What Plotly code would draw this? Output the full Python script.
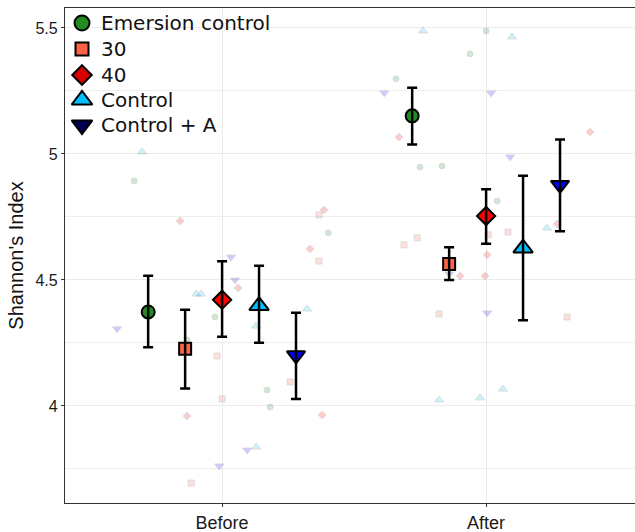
import plotly.graph_objects as go

# ---------------- data ----------------
times = ["Before", "After"]
time_pos = [1, 2]
groups = ["Emersion control", "30", "40", "Control", "Control + A"]
dodge = [-0.28, -0.14, 0.0, 0.14, 0.28]

# means and error-bar limits (mean ± SE), per group: [Before, After]
mean_vals = {
    "Emersion control": [4.373, 5.151],
    "30": [4.227, 4.563],
    "40": [4.421, 4.754],
    "Control": [4.398, 4.626],
    "Control + A": [4.201, 4.877],
}
upper_vals = {
    "Emersion control": [4.517, 5.263],
    "30": [4.382, 4.630],
    "40": [4.574, 4.860],
    "Control": [4.556, 4.913],
    "Control + A": [4.370, 5.057],
}
lower_vals = {
    "Emersion control": [4.233, 5.037],
    "30": [4.069, 4.500],
    "40": [4.275, 4.644],
    "Control": [4.251, 4.340],
    "Control + A": [4.028, 4.693],
}

# raw (jittered) observations: values and jitter offsets from the time centre
raw_before = {
    "Emersion control": [4.893, 4.353, 4.262, 4.687, 4.063, 3.996],
    "30": [4.758, 4.575, 4.198, 4.028, 4.095, 3.694],
    "40": [4.734, 4.778, 4.623, 4.468, 3.960, 3.964],
    "Control": [5.008, 4.444, 4.444, 4.385, 4.317, 3.837],
    "Control + A": [4.591, 4.500, 4.306, 3.825, 3.762],
}
jit_before = {
    "Emersion control": [-0.333, -0.027, -0.133, 0.402, 0.170, 0.182],
    "30": [0.367, 0.367, -0.019, 0.0, 0.258, -0.117],
    "40": [-0.159, 0.386, 0.333, 0.061, -0.133, 0.379],
    "Control": [-0.303, -0.098, -0.080, 0.322, 0.129, 0.129],
    "Control + A": [0.034, 0.049, -0.398, 0.095, -0.011],
}
raw_after = {
    "Emersion control": [5.488, 5.397, 5.298, 4.948, 4.952, 4.813],
    "30": [4.679, 4.690, 4.667, 4.639, 4.365, 4.353],
    "40": [5.067, 5.087, 4.722, 4.600, 4.516, 4.516],
    "Control": [5.488, 5.464, 4.706, 4.024, 4.032, 4.067],
    "Control + A": [5.242, 5.242, 4.988, 4.524, 4.369],
}
jit_after = {
    "Emersion control": [0.0, -0.061, -0.341, -0.250, -0.167, 0.042],
    "30": [0.008, 0.083, -0.261, -0.311, -0.178, 0.307],
    "40": [-0.330, 0.394, 0.269, 0.004, -0.098, -0.004],
    "Control": [-0.239, 0.098, 0.231, -0.178, -0.023, 0.064],
    "Control + A": [-0.386, 0.019, 0.091, -0.140, 0.004],
}

y_ticks = [4, 4.5, 5, 5.5]
y_ticktext = ["4", "4.5", "5", "5.5"]

# ---------------- styles ----------------
symbols = {"Emersion control": "circle", "30": "square", "40": "diamond",
           "Control": "triangle-up", "Control + A": "triangle-down"}
fill = {"Emersion control": "#228B22", "30": "#FF6347", "40": "#FF0000",
        "Control": "#00BFFF", "Control + A": "#0000FF"}
legend_fill = {"Emersion control": "#228B22", "30": "#FF6347", "40": "#D80000",
               "Control": "#00BFFF", "Control + A": "#000050"}
main_size = {"Emersion control": 13, "30": 12, "40": 14,
             "Control": 17, "Control + A": 16}
legend_size = {"Emersion control": 15, "30": 13, "40": 15,
               "Control": 18, "Control + A": 18}
raw_size = {"Emersion control": 6, "30": 6, "40": 6,
            "Control": 8, "Control + A": 8}

# plot-area geometry (px)
W, H = 635, 532
ML, MR, MT, MB = 65, 0, 8, 29
PW, PH = W - ML - MR, H - MT - MB

fig = go.Figure()

# faded raw points
for g in groups:
    xs = [time_pos[0] + j for j in jit_before[g]] + [time_pos[1] + j for j in jit_after[g]]
    ys = raw_before[g] + raw_after[g]
    fig.add_trace(go.Scatter(
        x=xs, y=ys, mode="markers", showlegend=False, hoverinfo="skip",
        marker=dict(symbol=symbols[g], size=raw_size[g], color=fill[g],
                    opacity=0.2, line=dict(color="#333333", width=0.8)),
    ))

# mean markers
for g, d in zip(groups, dodge):
    xs = [p + d for p in time_pos]
    fig.add_trace(go.Scatter(
        x=xs, y=mean_vals[g], mode="markers", showlegend=False,
        marker=dict(symbol=symbols[g], size=main_size[g], color=fill[g],
                    opacity=1, line=dict(color="black", width=2)),
    ))

# error bars drawn on top
for g, d in zip(groups, dodge):
    xs = [p + d for p in time_pos]
    m = mean_vals[g]
    fig.add_trace(go.Scatter(
        x=xs, y=m, mode="markers", showlegend=False, hoverinfo="skip",
        marker=dict(size=1, color="rgba(0,0,0,0)"),
        error_y=dict(type="data", symmetric=False,
                     array=[u - v for u, v in zip(upper_vals[g], m)],
                     arrayminus=[v - l for v, l in zip(m, lower_vals[g])],
                     color="black", thickness=2.5, width=5),
    ))

# manual legend (overlay pixel axes)
leg_marker_x = 82 - ML
leg_text_x = 99 - ML
leg_row_y = [23, 49, 75, 100, 125]
for g, r in zip(groups, leg_row_y):
    fig.add_trace(go.Scatter(
        x=[leg_marker_x], y=[H - MB - r],
        xaxis="x2", yaxis="y2", mode="markers", showlegend=False, hoverinfo="skip",
        marker=dict(symbol=symbols[g], size=legend_size[g], color=legend_fill[g],
                    opacity=1, line=dict(color="black", width=2)),
    ))
    fig.add_annotation(
        x=leg_text_x, y=H - MB - r, xref="x2", yref="y2", text=g,
        showarrow=False, xanchor="left", yanchor="middle",
        font=dict(family="DejaVu Sans", size=20, color="#111111"),
    )

fig.update_layout(
    width=W, height=H,
    margin=dict(l=ML, r=MR, t=MT, b=MB),
    paper_bgcolor="white", plot_bgcolor="white",
    font=dict(family="Liberation Sans, Arial, sans-serif", color="#1a1a1a", size=15),
    showlegend=False,
    xaxis=dict(
        range=[0.405, 2.564], tickvals=time_pos, ticktext=times,
        showgrid=True, gridcolor="#EBEBEB", gridwidth=1.3,
        showline=True, linecolor="#333333", linewidth=1.2, mirror=True,
        ticks="outside", ticklen=3, tickcolor="#333333",
        zeroline=False, tickfont=dict(size=18, color="#1a1a1a"),
    ),
    yaxis=dict(
        range=[3.615, 5.579], tickvals=y_ticks, ticktext=y_ticktext,
        showgrid=True, gridcolor="#EBEBEB", gridwidth=1.3,
        minor=dict(dtick=0.25, tick0=3.75, showgrid=True, gridcolor="#EEEEEE", gridwidth=0.7),
        showline=True, linecolor="#333333", linewidth=1.2,
        ticks="outside", ticklen=3, tickcolor="#333333",
        zeroline=False, tickfont=dict(size=16, color="#1a1a1a"),
        title=dict(text="Shannon's Index", font=dict(size=20, color="#111111"), standoff=6),
    ),
    xaxis2=dict(overlaying="x", range=[0, PW], visible=False, anchor="y2"),
    yaxis2=dict(overlaying="y", range=[0, PH], visible=False, anchor="x2"),
)

fig.write_html("out.html")
